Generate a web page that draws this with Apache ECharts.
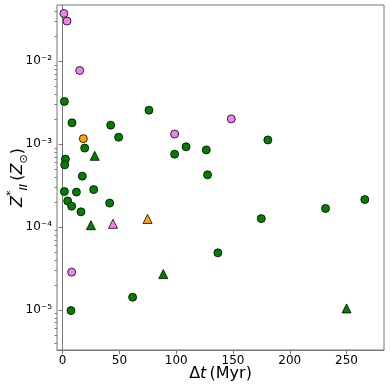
<!DOCTYPE html>
<html>
<head>
<meta charset="utf-8">
<script src="https://cdn.jsdelivr.net/npm/echarts@6/dist/echarts.min.js"></script>
<style>
  html, body { margin: 0; padding: 0; background: #fff; }
  #chart { width: 390px; height: 390px; }
</style>
</head>
<body>
<div id="chart"></div>
<script>
// Δt (Myr), Z*_II (Z_sun)
var greenCircles = [
  [1.5, 3.26e-3], [8.2, 1.80e-3], [42.3, 1.69e-3], [49.3, 1.21e-3], [76.0, 2.56e-3],
  [108.7, 9.25e-4], [98.6, 7.55e-4], [126.5, 8.5e-4], [180.7, 1.12e-3], [127.6, 4.25e-4],
  [19.4, 8.93e-4], [2.4, 6.58e-4], [1.8, 5.61e-4], [17.3, 4.10e-4], [1.5, 2.67e-4],
  [12.1, 2.63e-4], [27.3, 2.82e-4], [4.4, 2.06e-4], [7.9, 1.78e-4], [16.1, 1.52e-4],
  [41.4, 1.94e-4], [266.1, 2.14e-4], [231.5, 1.67e-4], [174.9, 1.26e-4], [136.7, 4.87e-5],
  [61.6, 1.42e-5], [7.3, 9.8e-6]
];
var greenTriangles = [[28.2, 7.21e-4], [24.9, 1.05e-4], [88.6, 2.70e-5], [250.0, 1.04e-5]];
var pinkCircles = [[1.1, 3.75e-2], [3.8, 3.04e-2], [15.0, 7.7e-3], [98.6, 1.32e-3], [148.5, 2.01e-3], [7.9, 2.85e-5]];
var pinkTriangles = [[44.3, 1.09e-4]];
var orangeCircles = [[18.2, 1.16e-3]];
var orangeTriangles = [[74.8, 1.25e-4]];

var xTicks = [0, 50, 100, 150, 200, 250];
var yTicks = [1e-5, 1e-4, 1e-3, 1e-2];
var yTickLabels = ['10\u207B\u2075', '10\u207B\u2074', '10\u207B\u00B3', '10\u207B\u00B2'];

var xMin = -5, xMax = 283;
var yMin = 3.28e-6, yMax = 0.0475;

var yMinor = [];
[-6, -5, -4, -3, -2].forEach(function (e) {
  for (var k = 2; k <= 9; k++) {
    var v = k * Math.pow(10, e);
    if (v > yMin && v < yMax) yMinor.push(v);
  }
});

var frame = '#777';
var font = 'DejaVu Sans';

function scatter(name, data, color, symbol, size) {
  return {
    name: name, type: 'scatter', data: data, symbol: symbol, symbolSize: size,
    itemStyle: { color: color, borderColor: '#000', borderWidth: 0.8, opacity: 1 },
    emphasis: { disabled: true }
  };
}

var chart = echarts.init(document.getElementById('chart'));
chart.setOption({
  animation: false,
  backgroundColor: '#fff',
  grid: {
    left: 57, right: 6, top: 5, bottom: 40, outerBoundsMode: 'none', containLabel: false,
    show: true, borderColor: frame, borderWidth: 1
  },
  xAxis: {
    type: 'value', min: xMin, max: xMax,
    splitLine: { show: false },
    axisLine: { show: true, lineStyle: { color: frame } },
    axisTick: { show: true, length: 4, lineStyle: { color: frame }, customValues: xTicks },
    axisLabel: { color: '#000', fontSize: 12, fontFamily: font, margin: 5, customValues: xTicks },
    name: '{a|\u0394}{i|t}{a|\u2009(Myr)}', nameLocation: 'middle', nameGap: 16, nameMoveOverlap: false,
    nameTextStyle: {
      fontFamily: font, fontSize: 16, color: '#000',
      rich: { a: { fontFamily: font, fontSize: 16 }, i: { fontFamily: font, fontSize: 16, fontStyle: 'italic' } }
    }
  },
  yAxis: [{
    type: 'log', min: yMin, max: yMax,
    splitLine: { show: false },
    axisLine: { show: true, lineStyle: { color: frame } },
    axisTick: { show: true, length: 4, lineStyle: { color: frame }, customValues: yTicks },
    axisLabel: {
      color: '#000', fontSize: 12, fontFamily: font, margin: 5, customValues: yTicks,
      formatter: function (v) {
        var i = Math.round(Math.log10(v)) + 5;
        return yTickLabels[i] || '';
      }
    },
    name: '{i|Z}{sup|*}{sub|II}{a|\u2009(}{i|Z}{sub|\u2299}{a|)}', nameLocation: 'middle', nameGap: 27, nameMoveOverlap: false,
    nameTextStyle: {
      fontFamily: font, fontSize: 16, color: '#000', lineHeight: 24,
      rich: {
        a: { fontFamily: font, fontSize: 16, lineHeight: 24 },
        i: { fontFamily: font, fontSize: 16, fontStyle: 'italic', lineHeight: 24 },
        sup: { fontFamily: font, fontSize: 11, verticalAlign: 'top', lineHeight: 24 },
        sub: { fontFamily: font, fontSize: 11, fontStyle: 'italic', verticalAlign: 'bottom', lineHeight: 24 }
      }
    }
  }, {
    type: 'log', min: yMin, max: yMax, position: 'left',
    splitLine: { show: false },
    axisLine: { show: false },
    axisTick: { show: true, length: 2.5, lineStyle: { color: frame }, customValues: yMinor },
    axisLabel: { show: false }
  }],
  series: [
    scatter('green circles', greenCircles, '#008000', 'circle', 8),
    scatter('green triangles', greenTriangles, '#008000', 'triangle', 9),
    scatter('pink circles', pinkCircles, '#EE82EE', 'circle', 8),
    scatter('pink triangles', pinkTriangles, '#EE82EE', 'triangle', 9),
    scatter('orange circles', orangeCircles, '#FFA500', 'circle', 8),
    scatter('orange triangles', orangeTriangles, '#FFA500', 'triangle', 9)
  ]
});
</script>
</body>
</html>
